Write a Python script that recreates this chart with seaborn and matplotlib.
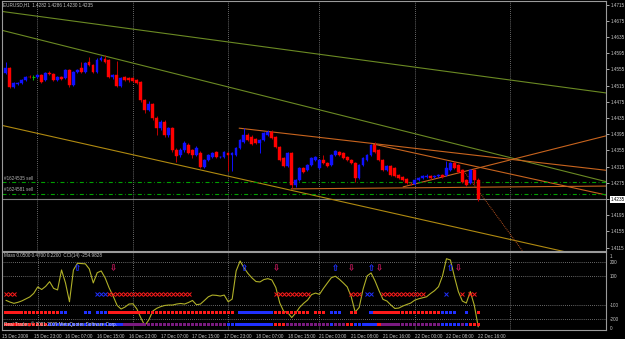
import numpy as np
import pandas as pd
import matplotlib
matplotlib.use("Agg")
import matplotlib.pyplot as plt
import seaborn as sns

# EURUSD H1 candles (bar 0 = 15 Dec 15:00)
opens = [1.4547, 1.4559, 1.4512, 1.4520, 1.4522, 1.4529, 1.4537, 1.4536, 1.4536, 1.4542,
         1.4530, 1.4547, 1.4545, 1.4529, 1.4537, 1.4534, 1.4554, 1.4517, 1.4549, 1.4559,
         1.4549, 1.4574, 1.4566, 1.4549, 1.4579, 1.4581, 1.4579, 1.4537, 1.4542, 1.4515,
         1.4537, 1.4534, 1.4534, 1.4529, 1.4524, 1.4480, 1.4455, 1.4470, 1.4436, 1.4411,
         1.4426, 1.4394, 1.4411, 1.4356, 1.4344, 1.4356, 1.4369, 1.4356, 1.4344, 1.4349,
         1.4314, 1.4332, 1.4339, 1.4352, 1.4339, 1.4339, 1.4349, 1.4344, 1.4344, 1.4361,
         1.4376, 1.4394, 1.4389, 1.4384, 1.4374, 1.4381, 1.4394, 1.4401, 1.4389, 1.4364,
         1.4337, 1.4317, 1.4349, 1.4270, 1.4282, 1.4312, 1.4307, 1.4319, 1.4332, 1.4312,
         1.4332, 1.4324, 1.4319, 1.4344, 1.4352, 1.4349, 1.4339, 1.4332, 1.4324, 1.4287,
         1.4319, 1.4332, 1.4344, 1.4369, 1.4356, 1.4332, 1.4307, 1.4317, 1.4312, 1.4295,
         1.4290, 1.4285, 1.4275, 1.4272, 1.4282, 1.4287, 1.4290, 1.4292, 1.4290, 1.4292,
         1.4295, 1.4295, 1.4307, 1.4324, 1.4319, 1.4307, 1.4282, 1.4275, 1.4307, 1.4282]
closes = [1.4559, 1.4512, 1.4522, 1.4522, 1.4529, 1.4537, 1.4536, 1.4536, 1.4542, 1.4524,
          1.4547, 1.4545, 1.4529, 1.4537, 1.4532, 1.4554, 1.4517, 1.4549, 1.4554, 1.4549,
          1.4571, 1.4566, 1.4549, 1.4579, 1.4584, 1.4574, 1.4537, 1.4542, 1.4515, 1.4534,
          1.4529, 1.4529, 1.4527, 1.4522, 1.4480, 1.4455, 1.4470, 1.4436, 1.4411, 1.4426,
          1.4394, 1.4411, 1.4356, 1.4342, 1.4356, 1.4374, 1.4349, 1.4344, 1.4361, 1.4314,
          1.4332, 1.4344, 1.4349, 1.4339, 1.4340, 1.4352, 1.4344, 1.4349, 1.4361, 1.4381,
          1.4394, 1.4381, 1.4371, 1.4374, 1.4381, 1.4398, 1.4401, 1.4386, 1.4364, 1.4332,
          1.4317, 1.4349, 1.4270, 1.4282, 1.4312, 1.4302, 1.4319, 1.4337, 1.4339, 1.4332,
          1.4324, 1.4317, 1.4344, 1.4354, 1.4344, 1.4337, 1.4332, 1.4324, 1.4287, 1.4319,
          1.4337, 1.4344, 1.4369, 1.4352, 1.4332, 1.4307, 1.4317, 1.4295, 1.4292, 1.4287,
          1.4282, 1.4275, 1.4274, 1.4282, 1.4287, 1.4292, 1.4292, 1.4287, 1.4292, 1.4295,
          1.4290, 1.4312, 1.4324, 1.4312, 1.4302, 1.4277, 1.4270, 1.4307, 1.4282, 1.4235]
highs = [1.4574, 1.4560, 1.4524, 1.4525, 1.4531, 1.4540, 1.4541, 1.4542, 1.4545, 1.4544,
         1.4549, 1.4550, 1.4547, 1.4539, 1.4540, 1.4557, 1.4556, 1.4551, 1.4557, 1.4574,
         1.4573, 1.4586, 1.4568, 1.4584, 1.4588, 1.4591, 1.4581, 1.4545, 1.4576, 1.4537,
         1.4539, 1.4537, 1.4537, 1.4532, 1.4527, 1.4483, 1.4476, 1.4473, 1.4440, 1.4430,
         1.4429, 1.4414, 1.4414, 1.4361, 1.4361, 1.4379, 1.4374, 1.4359, 1.4366, 1.4354,
         1.4334, 1.4347, 1.4352, 1.4354, 1.4342, 1.4354, 1.4352, 1.4352, 1.4364, 1.4384,
         1.4411, 1.4398, 1.4392, 1.4386, 1.4384, 1.4401, 1.4406, 1.4406, 1.4391, 1.4366,
         1.4339, 1.4352, 1.4352, 1.4285, 1.4314, 1.4314, 1.4322, 1.4339, 1.4342, 1.4334,
         1.4344, 1.4327, 1.4347, 1.4356, 1.4354, 1.4352, 1.4342, 1.4334, 1.4327, 1.4322,
         1.4339, 1.4347, 1.4371, 1.4376, 1.4359, 1.4334, 1.4319, 1.4319, 1.4314, 1.4297,
         1.4292, 1.4287, 1.4277, 1.4285, 1.4290, 1.4295, 1.4297, 1.4295, 1.4295, 1.4297,
         1.4298, 1.4329, 1.4327, 1.4329, 1.4322, 1.4309, 1.4285, 1.4309, 1.4309, 1.4286]
lows = [1.4545, 1.4510, 1.4509, 1.4516, 1.4520, 1.4527, 1.4533, 1.4530, 1.4534, 1.4521,
        1.4527, 1.4541, 1.4527, 1.4526, 1.4530, 1.4532, 1.4512, 1.4515, 1.4547, 1.4546,
        1.4547, 1.4564, 1.4546, 1.4547, 1.4577, 1.4571, 1.4534, 1.4532, 1.4512, 1.4512,
        1.4527, 1.4525, 1.4524, 1.4519, 1.4475, 1.4448, 1.4452, 1.4431, 1.4394, 1.4406,
        1.4389, 1.4389, 1.4352, 1.4327, 1.4339, 1.4352, 1.4346, 1.4337, 1.4342, 1.4312,
        1.4312, 1.4329, 1.4337, 1.4337, 1.4337, 1.4337, 1.4305, 1.4305, 1.4342, 1.4359,
        1.4374, 1.4379, 1.4369, 1.4371, 1.4349, 1.4379, 1.4391, 1.4384, 1.4361, 1.4329,
        1.4314, 1.4314, 1.4263, 1.4265, 1.4280, 1.4300, 1.4305, 1.4317, 1.4329, 1.4309,
        1.4322, 1.4314, 1.4317, 1.4342, 1.4342, 1.4334, 1.4329, 1.4322, 1.4277, 1.4285,
        1.4317, 1.4329, 1.4342, 1.4349, 1.4329, 1.4305, 1.4305, 1.4292, 1.4290, 1.4285,
        1.4280, 1.4272, 1.4270, 1.4270, 1.4280, 1.4285, 1.4287, 1.4285, 1.4287, 1.4290,
        1.4287, 1.4292, 1.4305, 1.4309, 1.4300, 1.4275, 1.4267, 1.4272, 1.4272, 1.4230]

# CCI(14)
cci = [-69, -81, -90, -83, -73, -59, -45, -20, 25, 7,
       29, 62, 15, 4, 144, 53, -79, 144, 191, 189,
       187, 151, 53, 125, 137, 88, 18, -39, -104, -130,
       -116, -95, -93, -130, -193, -246, -206, -144, -125, -113,
       -105, -102, -102, -95, -91, -95, -84, -70, -100, -95,
       -70, -44, -32, -34, -39, -32, -79, -60, 137, 207,
       158, 119, 88, 63, 60, 77, 83, 74, 21, -88,
       -147, -154, -190, -158, -118, -90, -67, -29, -18, -27,
       15, 53, 90, 100, 79, 53, 25, -44, -151, -119,
       11, 102, 123, 67, -1, -62, -74, -102, -126, -123,
       -109, -98, -88, -68, -58, -51, -44, -21, -1, 27,
       102, 223, 214, 97, -8, -74, -88, -8, -102, -254.9828]

# "Mass" signal rows, one char per bar: R red, B blue, P purple, . nothing
mass_levels = [0.05, 0.47, 0.22]
row_bottom = ("RRRRRRRRRRRBBBBBBBBB" "BBBBBBBBBBPPPPPPPPPP" "PPPPPPPPPPPPPPPPBBBB"
              "BBBBBBBBRRRPPPPPPPPP" "PPBPPPRRBBBBBBRPPPPP" "PPPPPPPPPPBBBBBPBRRR")
row_cross = ("RRR................." "...BBBRRRRRRRRRRRRRR" "RRRRRRR............."
             "........RRRRRRRRR..." ".......RRR.BB..RRRRR" "RRRRRR.....B...R.RR.")
row_square = ("RRRRRRRRRRRRRRBB...." "BB.BBBRRRRRRRRRRRRRR" "RRRRRRRRRRRRRRRRRR.B"
              "BBBBBBBBRRRRRRRRR.RR" "R.BBB..RR...BRRRRRRR" "RRRRRRRRRRBBBB..B..R")
arrow_level = 0.85
arrows_up = [18, 60, 83, 92, 112]
arrows_down = [27, 68, 87, 94, 114]

# objects drawn on the chart: (bar0, price0, bar1, price1)
trend_lines = {
    "olive_top": (-1.44, 1.4699, 151.2, 1.4497),
    "olive_low": (-1.44, 1.4653, 151.2, 1.4278),
    "gold": (-1.44, 1.4418, 151.2, 1.4082),
    "orange_a": (58.8, 1.4410, 151.2, 1.4306),
    "orange_b": (92.5, 1.4371, 151.2, 1.4245),
    "orange_up": (100.1, 1.4265, 151.2, 1.4391),
    "orange_flat": (71.9, 1.4260, 151.2, 1.4267),
    "orange_dot": (115.2, 1.4307, 130.3, 1.4105),
}
orders = ["#1624535 sell", "#1624581 sell"]
order_prices = [1.4276, 1.4247]
bid = 1.4235
header = "EURUSD,H1  1.4282 1.4286 1.4230 1.4235"

price_ticks = [1.4715, 1.4675, 1.4635, 1.4595, 1.4555, 1.4515, 1.4475, 1.4435,
               1.4395, 1.4355, 1.4315, 1.4275, 1.4235, 1.4195, 1.4155, 1.4115]
date_ticks = [-1, 7, 15, 23, 31, 39, 47, 55, 63, 71, 79, 87, 95, 103, 111, 119]
date_labels = ["15 Dec 2009", "15 Dec 23:00", "16 Dec 07:00", "16 Dec 15:00",
               "16 Dec 23:00", "17 Dec 07:00", "17 Dec 15:00", "17 Dec 23:00",
               "18 Dec 07:00", "18 Dec 15:00", "21 Dec 00:00", "21 Dec 08:00",
               "21 Dec 16:00", "22 Dec 00:00", "22 Dec 08:00", "22 Dec 16:00"]
day_separators = [8, 32, 56, 79, 103, 127]

BG = "#000000"
FG = "#c8c8c8"
FRAME = "#9a9a9a"
UP, DN, DN_WICK, DOJI = "#1010ff", "#ff0000", "#c00000", "#00c000"
line_styles = {
    "olive_top": dict(color="#6b8a23", lw=0.8),
    "olive_low": dict(color="#6b8a23", lw=0.8),
    "gold": dict(color="#b08a10", lw=0.8),
    "orange_a": dict(color="#c8641e", lw=0.8),
    "orange_b": dict(color="#c8641e", lw=0.8),
    "orange_up": dict(color="#c8641e", lw=0.8),
    "orange_flat": dict(color="#c8641e", lw=0.8),
    "orange_dot": dict(color="#b4501e", lw=0.7, ls=(0, (1, 1))),
}
row_colors = {"R": "#ff1a1a", "B": "#2030ff", "P": "#7a1a80"}

sns.set_theme(style="dark", rc={"axes.facecolor": BG, "figure.facecolor": BG,
                                "savefig.facecolor": BG, "axes.edgecolor": FRAME,
                                "text.color": FG, "xtick.color": FG, "ytick.color": FG})
plt.rcParams["font.family"] = ["Liberation Sans", "DejaVu Sans"]
FS = 3.35

W, H = 625.0, 339.0
fig = plt.figure(figsize=(6.25, 3.39), dpi=100)
ax = fig.add_axes([2 / W, 1 - 251 / H, 604 / W, 250 / H])
ax2 = fig.add_axes([2 / W, 1 - 330 / H, 604 / W, 78 / H])
ax3 = ax2.twinx()
xlim = (-0.93, 151.2)

# ---- price panel ----
o, c, h, l = map(np.array, (opens, closes, highs, lows))
bars = np.arange(len(o))
up, dn, flat = c > o, c < o, c == o
ax.vlines(bars[up], l[up], h[up], color=UP, lw=0.7, zorder=3)
ax.vlines(bars[dn], l[dn], h[dn], color=DN_WICK, lw=0.7, zorder=3)
ax.bar(bars[up], (c - o)[up], bottom=o[up], width=0.72, color=UP, edgecolor=UP, lw=0.3, zorder=4)
ax.bar(bars[dn], (o - c)[dn], bottom=c[dn], width=0.72, color=DN, edgecolor=DN, lw=0.3, zorder=4)
ax.vlines(bars[flat], l[flat], h[flat], color=DOJI, lw=0.7, zorder=4)
ax.hlines(c[flat], bars[flat] - 0.45, bars[flat] + 0.45, color=DOJI, lw=0.7, zorder=4)

for name, (x0, p0, x1, p1) in trend_lines.items():
    ax.plot([x0, x1], [p0, p1], zorder=2, **line_styles[name])

for lbl, p in zip(orders, order_prices):
    ax.axhline(p, color="#00a000", lw=0.8, ls=(0, (3.6, 2.2, 0.7, 2.2)), zorder=2)
    ax.annotate(lbl, (xlim[0], p), xytext=(1.5, 1.2), textcoords="offset points",
                fontsize=FS, color="#b0b0b0", va="bottom")
ax.axhline(bid, color="#808080", lw=0.8, zorder=1)

for s in day_separators:
    for a in (ax, ax2):
        a.axvline(s, color="#8c8c8c", lw=0.6, ls=(0, (1, 1.5)), zorder=1)

ax.set_xlim(*xlim)
ax.set_ylim(1.41066, 1.47241)
ax.set_xticks([])
ax.yaxis.tick_right()
ax.set_yticks(price_ticks)
ax.set_yticklabels([f"{p:.4f}" for p in price_ticks])
ax.tick_params(axis="y", labelsize=FS, length=2, width=0.6, pad=1.5, colors=FG)
for t, p in zip(ax.get_yticklabels(), price_ticks):
    if abs(p - bid) < 1e-6:
        t.set_color("black")
        t.set_bbox(dict(facecolor="white", edgecolor="none", pad=0.4))
ax.text(0.002, 0.993, header, transform=ax.transAxes, fontsize=FS, color=FG, va="top")

# ---- indicator panel ----
sns.lineplot(x=bars, y=cci, ax=ax2, color="#b0b028", lw=0.8, zorder=3)
for lv in (200, 100, -100, -200):
    ax2.axhline(lv, color="#8c8c8c", lw=0.6, ls=(0, (1, 1.5)), zorder=1)
ax2.set_xlim(*xlim)
ax2.set_ylim(-277, 270)
ax2.yaxis.tick_right()
ax2.set_yticks([200, 100, -100, -200])
ax2.set_yticklabels(["200", "100", "-100", "-200"])
ax2.tick_params(axis="y", labelsize=FS, length=0, pad=2.5, colors=FG)
ax2.set_xticks(date_ticks)
ax2.set_xticklabels(date_labels, ha="left")
ax2.tick_params(axis="x", labelsize=FS, length=2, width=0.6, pad=0.6, colors=FG)
ax2.set_ylabel("")

ax3.set_ylim(-0.028, 1.056)
ax3.set_yticks([0, 1])
ax3.set_yticklabels(["0", "1"])
ax3.tick_params(axis="y", labelsize=FS, length=0, pad=2.5, colors=FG)
for sp in ax3.spines.values():
    sp.set_visible(False)

rows = pd.concat([
    pd.DataFrame({"bar": bars, "code": list(row_bottom), "level": mass_levels[0], "kind": "bottom"}),
    pd.DataFrame({"bar": bars, "code": list(row_square), "level": mass_levels[2], "kind": "square"}),
])
rows = rows[rows["code"] != "."]
sns.scatterplot(data=rows, x="bar", y="level", hue="code", palette=row_colors,
                marker="s", s=5.5, linewidth=0, legend=False, ax=ax3, zorder=4)
for code, col in row_colors.items():
    sel = [i for i, ch in enumerate(row_cross) if ch == code]
    ax3.plot(sel, [mass_levels[1]] * len(sel), ls="none", marker="x", ms=2.2, mew=0.7,
             color=col, zorder=4)
ax3.plot(arrows_up, [arrow_level] * len(arrows_up), ls="none", marker="$⇧$", ms=4.5,
         color="#2030ff", mew=0.2, zorder=5)
ax3.plot(arrows_down, [arrow_level] * len(arrows_down), ls="none", marker="$⇩$", ms=4.5,
         color="#c0185a", mew=0.2, zorder=5)
ax3.set_ylabel("")

ax2.text(0.003, 0.985,
         f"Mass {mass_levels[0]:.4f} {mass_levels[1]:.4f} {mass_levels[2]:.4f}  CCI(14) {cci[-1]:.4f}",
         transform=ax2.transAxes, fontsize=FS, color=FG, va="top")
ax3.text(0.003, mass_levels[0], "Real Trader, © 2001-2009 MetaQuotes Software Corp.",
         transform=ax3.get_yaxis_transform(), fontsize=FS, color="#e0e0e0", va="center", zorder=6)

for a in (ax, ax2):
    for sp in a.spines.values():
        sp.set_color(FRAME)
        sp.set_linewidth(0.8)

fig.savefig("out.png", dpi=100, facecolor=BG)
